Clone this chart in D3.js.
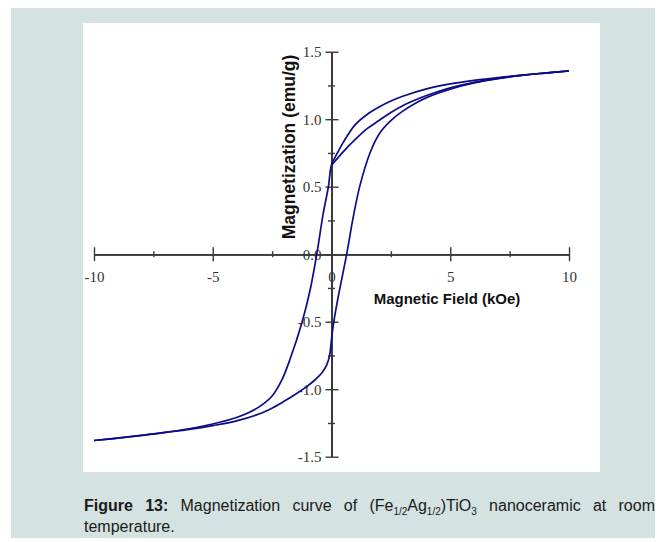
<!DOCTYPE html>
<html>
<head>
<meta charset="utf-8">
<script src="https://cdn.jsdelivr.net/npm/d3@7"></script>
<style>
  body { margin: 0; background: #ffffff; }
  svg { display: block; }
</style>
</head>
<body>
<svg id="chart" width="664" height="542"></svg>
<script>
// initial branch, starting from the remanent state
var initH = [0, 0.25, 0.5, 1.0, 1.5, 2.0, 2.5, 3.0, 3.5, 4.0, 5, 6, 7, 8, 9, 10];
var initM = [0.66, 0.71, 0.76, 0.85, 0.93, 0.99, 1.05, 1.10, 1.14, 1.175, 1.232, 1.273, 1.303, 1.325, 1.342, 1.357];

// descending branch, +10 -> -10 kOe
var descH = [10, 9, 8, 7, 6, 5, 4, 3, 2.5, 2, 1.5, 1, 0.5, 0.25, 0, -0.13, -0.35, -0.62, -0.9, -1.25, -1.75, -2.1, -2.5, -3, -3.5, -4, -5, -6, -7, -8, -9, -10];
var descM = [1.357, 1.342, 1.326, 1.308, 1.288, 1.262, 1.225, 1.17, 1.135, 1.09, 1.035, 0.96, 0.83, 0.75, 0.66, 0.5, 0.30, 0, -0.265, -0.51, -0.78, -0.935, -1.05, -1.125, -1.175, -1.21, -1.258, -1.293, -1.32, -1.342, -1.362, -1.38];

// ascending branch, -10 -> +10 kOe
var ascH = [-10, -9, -8, -7, -6, -5, -4, -3, -2.45, -2, -1.5, -1, -0.69, -0.41, -0.2, -0.08, 0, 0.08, 0.3, 0.64, 0.92, 1.2, 1.62, 2.04, 2.5, 3, 3.5, 4, 5, 6, 7, 8, 9, 10];
var ascM = [-1.38, -1.362, -1.342, -1.32, -1.298, -1.27, -1.235, -1.18, -1.135, -1.09, -1.035, -0.975, -0.93, -0.88, -0.82, -0.75, -0.63, -0.52, -0.3, 0, 0.28, 0.51, 0.75, 0.9, 0.99, 1.06, 1.115, 1.16, 1.222, 1.268, 1.3, 1.325, 1.342, 1.357];

var xMajor = [-10, -5, 0, 5, 10];
var xMinor = [-7.5, -2.5, 2.5, 7.5];
var xLabels = ["-10", "-5", "0", "5", "10"];
var yMajor = [-1.5, -1.0, -0.5, 0, 0.5, 1.0, 1.5];
var yMinor = [-1.25, -0.75, -0.25, 0.25, 0.75, 1.25];
var yLabels = ["-1.5", "-1.0", "-0.5", "0.0", "0.5", "1.0", "1.5"];

var xTitle = "Magnetic Field (kOe)";
var yTitle = "Magnetization (emu/g)";

var svg = d3.select("#chart");

// page background panels
svg.append("rect").attr("x", 11).attr("y", 8).attr("width", 644).attr("height", 530).attr("fill", "#d4e2e1");
svg.append("rect").attr("x", 83).attr("y", 23).attr("width", 517).attr("height", 449).attr("fill", "#ffffff");

var x = d3.scaleLinear().domain([-10, 10]).range([94, 569]);
var y = d3.scaleLinear().domain([-1.5, 1.5]).range([456.7, 51.7]);

var axisColor = "#3a3a3a";
var serif = "'Liberation Serif', 'Times New Roman', serif";
var sans = "'Liberation Sans', Arial, sans-serif";

function styleAxis(g) {
  g.select(".domain").attr("stroke", axisColor).attr("stroke-width", 1.5);
  g.selectAll(".tick line").attr("stroke", axisColor).attr("stroke-width", 1.4);
  g.selectAll(".tick text").attr("fill", "#333").style("font-family", serif).style("font-size", "15px");
}

// x axis: ticks crossing both sides
var xg = svg.append("g").attr("transform", "translate(0," + y(0) + ")");
xg.append("g").call(d3.axisBottom(x).tickValues(xMajor).tickSize(7).tickSizeOuter(0).tickPadding(10)
  .tickFormat(function (d, i) { return xLabels[i]; })).call(styleAxis);
xg.append("g").call(d3.axisTop(x).tickValues(xMajor).tickSize(7).tickSizeOuter(0).tickFormat("")).call(styleAxis);
xg.append("g").call(d3.axisBottom(x).tickValues(xMinor).tickSize(3).tickSizeOuter(0).tickFormat("")).call(styleAxis);
xg.append("g").call(d3.axisTop(x).tickValues(xMinor).tickSize(3).tickSizeOuter(0).tickFormat("")).call(styleAxis);

// y axis
var yg = svg.append("g").attr("transform", "translate(" + x(0) + ",0)");
yg.append("g").call(d3.axisLeft(y).tickValues(yMajor).tickSize(6).tickSizeOuter(0).tickPadding(4)
  .tickFormat(function (d, i) { return yLabels[i]; })).call(styleAxis);
yg.append("g").call(d3.axisRight(y).tickValues(yMajor).tickSize(7).tickSizeOuter(0).tickFormat("")).call(styleAxis);
yg.append("g").call(d3.axisLeft(y).tickValues(yMinor).tickSize(3.5).tickSizeOuter(0).tickFormat("")).call(styleAxis);
yg.append("g").call(d3.axisRight(y).tickValues(yMinor).tickSize(3.5).tickSizeOuter(0).tickFormat("")).call(styleAxis);

// axis titles
svg.append("text")
  .attr("x", 447).attr("y", 304)
  .attr("text-anchor", "middle")
  .style("font-family", sans).style("font-size", "15px").style("font-weight", "bold")
  .attr("fill", "#111")
  .text(xTitle);

svg.append("text")
  .attr("transform", "translate(294.5,147) rotate(-90)")
  .attr("text-anchor", "middle")
  .style("font-family", sans).style("font-size", "17.5px").style("font-weight", "bold")
  .attr("fill", "#111")
  .text(yTitle);

// hysteresis curves
var line = d3.line()
  .x(function (d) { return x(d[0]); })
  .y(function (d) { return y(d[1]); })
  .curve(d3.curveCatmullRom.alpha(0.5));

var branches = [d3.zip(initH, initM), d3.zip(descH, descM), d3.zip(ascH, ascM)];
svg.append("g").selectAll("path")
  .data(branches)
  .enter()
  .append("path")
    .attr("d", line)
    .attr("fill", "none")
    .attr("stroke", "#0c0c88")
    .attr("stroke-width", 1.7);

// caption, first line justified
var cap = svg.append("text")
  .attr("x", 84).attr("y", 511)
  .style("font-family", sans).style("font-size", "16px")
  .attr("fill", "#1a1a1a");
var parts = [
  { t: "Figure 13:", b: true },
  { t: " Magnetization curve of (Fe" },
  { t: "1/2", sub: true },
  { t: "Ag" },
  { t: "1/2", sub: true },
  { t: ")TiO" },
  { t: "3", sub: true },
  { t: " nanoceramic at room" }
];
var prevSub = false;
parts.forEach(function (p) {
  var ts = cap.append("tspan").text(p.t);
  if (p.b) ts.style("font-weight", "bold");
  if (p.sub) ts.style("font-size", "10px").attr("dy", prevSub ? 0 : 4);
  else if (prevSub) ts.attr("dy", -4);
  prevSub = !!p.sub;
});
var natural = cap.node().getComputedTextLength();
cap.style("word-spacing", Math.max(0, (571 - natural) / 8) + "px");

svg.append("text")
  .attr("x", 84).attr("y", 532)
  .style("font-family", sans).style("font-size", "16px")
  .attr("fill", "#1a1a1a")
  .text("temperature.");
</script>
</body>
</html>
